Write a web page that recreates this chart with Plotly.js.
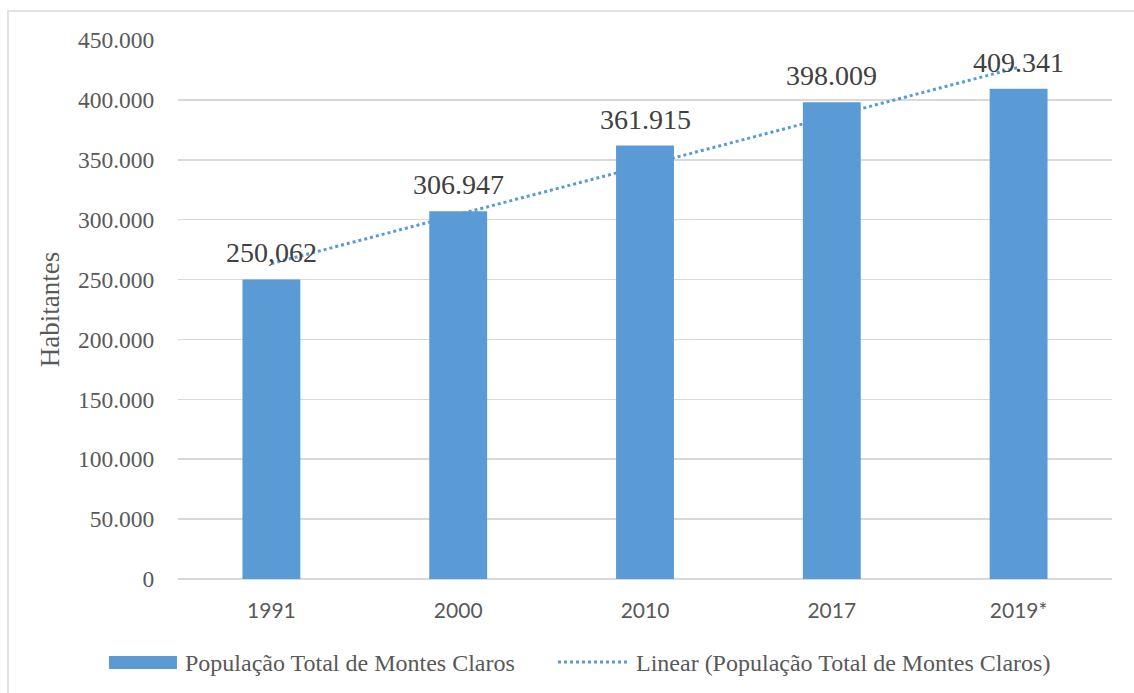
<!DOCTYPE html>
<html>
<head>
<meta charset="utf-8">
<script src="https://cdn.plot.ly/plotly-3.0.1.min.js"></script>
<style>html,body{margin:0;padding:0;background:#fff;}#chart{width:1134px;height:693px;}</style>
</head>
<body>
<div id="chart"></div>
<script>
// Data
var categories = ["1991", "2000", "2010", "2017", "2019*"];
var population = [250062, 306947, 361915, 398009, 409341];
var valueLabels = ["250,062", "306.947", "361.915", "398.009", "409.341"];
var trendValues = [263331, 304293, 345255, 386217, 427179];
var yTickVals = [0, 50000, 100000, 150000, 200000, 250000, 300000, 350000, 400000, 450000];
var yTickText = ["0", "50.000", "100.000", "150.000", "200.000", "250.000", "300.000", "350.000", "400.000", "450.000"];
var seriesName = "População Total de Montes Claros";
var trendName = "Linear (População Total de Montes Claros)";

(function () {
  // Layout geometry helpers (pixel -> paper)
  var PL = 178, PR = 1112, PT = 40, PB = 579;
  function px(x) { return (x - PL) / (PR - PL); }
  function py(y) { return (PB - y) / (PB - PT); }

  var blue = "#5B9BD5";
  var serif = "Liberation Serif, Times New Roman, serif";
  var xpos = categories.map(function (c, i) { return i; });

  var traces = [
    {
      type: "bar",
      x: xpos,
      y: population,
      name: seriesName,
      marker: {color: blue},
      width: 0.31
    },
    {
      type: "scatter",
      mode: "lines",
      x: xpos,
      y: trendValues,
      name: trendName,
      line: {color: blue, width: 3, dash: "dot"}
    }
  ];

  var annotations = xpos.map(function (xv, i) {
    return {
      x: xv, y: population[i], xref: "x", yref: "y",
      text: valueLabels[i], showarrow: false,
      yanchor: "bottom", xanchor: "center", yshift: 9,
      font: {family: serif, size: 28, color: "#404040"}
    };
  });

  annotations.push({
    xref: "paper", yref: "paper", x: px(183), y: py(663),
    xanchor: "left", yanchor: "middle", showarrow: false,
    text: seriesName, font: {family: serif, size: 24, color: "#595959"}
  });
  annotations.push({
    xref: "paper", yref: "paper", x: px(634), y: py(663),
    xanchor: "left", yanchor: "middle", showarrow: false,
    text: trendName, font: {family: serif, size: 24, color: "#595959"}
  });

  var shapes = [
    {type: "rect", xref: "paper", yref: "paper", x0: px(8), x1: px(1160), y0: py(720), y1: py(11),
     line: {color: "#D9D9D9", width: 1.5}, fillcolor: "rgba(0,0,0,0)", layer: "below"},
    {type: "rect", xref: "paper", yref: "paper", x0: px(109), x1: px(177), y0: py(669), y1: py(656),
     line: {width: 0}, fillcolor: blue},
    {type: "line", xref: "paper", yref: "paper", x0: px(558), x1: px(628), y0: py(662), y1: py(662),
     line: {color: blue, width: 3, dash: "dot"}}
  ];

  var layout = {
    width: 1134, height: 693,
    margin: {l: PL, r: 1134 - PR, t: PT, b: 693 - PB},
    paper_bgcolor: "#ffffff", plot_bgcolor: "#ffffff",
    font: {family: serif, size: 23.5, color: "#595959"},
    showlegend: false,
    xaxis: {
      range: [-0.5, 4.5],
      tickmode: "array", tickvals: xpos, ticktext: categories,
      showgrid: false, zeroline: false, showline: false,
      ticks: "outside", ticklen: 13, tickcolor: "rgba(0,0,0,0)",
      tickfont: {family: "Lato, sans-serif", size: 21, color: "#595959"}
    },
    yaxis: {
      range: [0, 450000],
      tickmode: "array", tickvals: yTickVals, ticktext: yTickText,
      showgrid: true, gridcolor: "#D9D9D9", gridwidth: 1.5,
      zeroline: true, zerolinecolor: "#D9D9D9", zerolinewidth: 1.5,
      showline: false, ticks: "outside", ticklen: 18, tickcolor: "rgba(0,0,0,0)",
      tickfont: {family: serif, size: 23.5, color: "#595959"},
      title: {text: "Habitantes", font: {family: serif, size: 27, color: "#595959"}, standoff: 10}
    },
    annotations: annotations,
    shapes: shapes
  };

  Plotly.newPlot("chart", traces, layout, {displayModeBar: false, staticPlot: true});
})();
</script>
</body>
</html>
